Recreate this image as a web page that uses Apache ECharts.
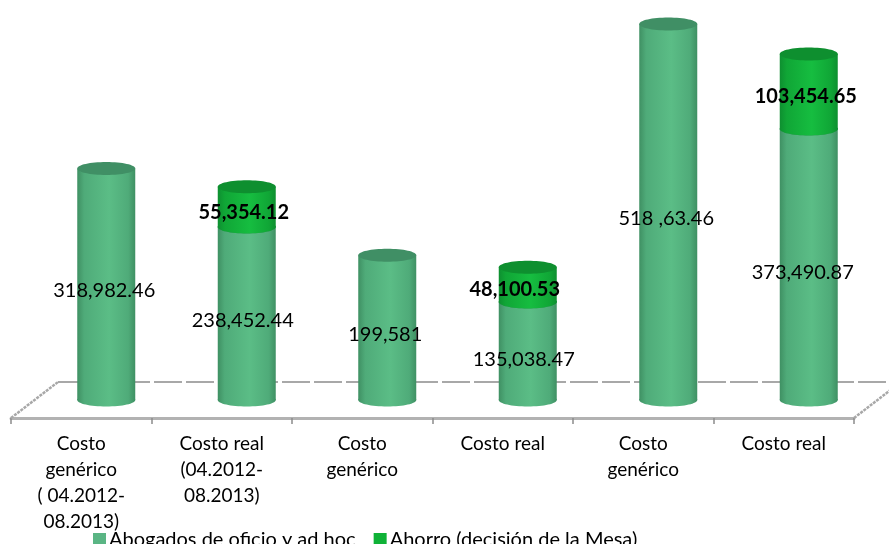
<!DOCTYPE html>
<html>
<head>
<meta charset="utf-8">
<title>Costo genérico y costo real</title>
<script src="https://cdn.jsdelivr.net/npm/echarts@6/dist/echarts.min.js"></script>
<style>html,body{margin:0;padding:0;background:#fff}#c{width:889px;height:544px}</style>
</head>
<body>
<div id="c"></div>
<script>
// Chart values
const categories = [
  'Costo\ngenérico\n( 04.2012-\n08.2013)',
  'Costo real\n(04.2012-\n08.2013)',
  'Costo\ngenérico',
  'Costo real',
  'Costo\ngenérico',
  'Costo real'
];
const abogados = [318982.46, 238452.44, 199581, 135038.47, 518163.46, 373490.87];
const ahorro = [null, 55354.12, null, 48100.53, null, 103454.65];
const abogadosLabels = ['318,982.46', '238,452.44', '199,581', '135,038.47', '518 ,63.46', '373,490.87'];
const ahorroLabels = [null, '55,354.12', null, '48,100.53', null, '103,454.65'];

// Cylinder and floor geometry, in pixels
const FONT = 'Lato, Carlito, sans-serif';
const BAR_W = 58, CAP_RY = 6.5, BAR_DX = 25, BAR_DY = -18, DEPTH_X = 47, DEPTH_Y = -36;
const abogadosNudge = [[-2, 6], [-4, 7], [-2, 7], [-4, 9], [-2, 6], [-6, 8]];
const ahorroNudge = [null, [-3, 6], null, [-13, 5], null, [-3, 5]];

const bodyFill = (c0, c1, c2) => ({
  type: 'linear', x: 0, y: 0, x2: 1, y2: 0,
  colorStops: [{offset: 0, color: c0}, {offset: 0.12, color: c1}, {offset: 0.55, color: c2},
               {offset: 0.88, color: c1}, {offset: 1, color: c0}]
});
const palettes = {
  abogados: {body: bodyFill('#3f9063', '#4fab79', '#5bbd86'), cap: '#408f65', swatch: '#5ab584'},
  ahorro: {body: bodyFill('#0e8f30', '#10a636', '#16bd40'), cap: '#0e8f2f', swatch: '#0fb237'}
};

// One cylinder segment between two values, shifted into the depth of the floor
function segment(api, params, base, top, label, nudge, pal, bold) {
  const idx = api.value(0);
  const a = api.coord([idx, base]);
  const b = api.coord([idx, top]);
  const cx = a[0] + BAR_DX, yBase = a[1] + BAR_DY, yTop = b[1] + BAR_DY, rx = BAR_W / 2;
  const children = [
    {type: 'ellipse', shape: {cx: cx, cy: yBase, rx: rx, ry: CAP_RY}, style: {fill: pal.body}},
    {type: 'rect', shape: {x: cx - rx, y: yTop, width: BAR_W, height: yBase - yTop}, style: {fill: pal.body}},
    {type: 'ellipse', shape: {cx: cx, cy: yTop, rx: rx, ry: CAP_RY}, style: {fill: pal.cap}},
    {type: 'text', z2: 10, style: {
      text: label, x: cx + nudge[0], y: (yBase + yTop) / 2 + nudge[1],
      align: 'center', verticalAlign: 'middle', fill: '#000',
      font: (bold ? 'bold ' : '') + '20px ' + FONT
    }}
  ];
  return {type: 'group', children: children};
}

// Back edge and the two slanted sides of the floor
function floor(params) {
  const g = params.coordSys;
  const left = g.x, right = g.x + g.width, front = g.y + g.height, back = front + DEPTH_Y;
  const edge = (x1, y1, x2, y2, dash, width) => ({
    type: 'line', shape: {x1: x1, y1: y1, x2: x2, y2: y2},
    style: {stroke: '#a8a8a8', lineWidth: width, lineDash: dash}
  });
  return {type: 'group', children: [
    edge(left + DEPTH_X, back, right + DEPTH_X, back, [28, 4], 2),
    edge(left, front, left + DEPTH_X, back, [3, 1], 2.5),
    edge(right, front, right + DEPTH_X, back, [3, 1], 2.5)
  ]};
}

const chart = echarts.init(document.getElementById('c'), null, {renderer: 'canvas'});
chart.setOption({
  animation: false,
  backgroundColor: '#fff',
  grid: {left: 11, right: 35, top: 19, bottom: 126, containLabel: false},
  legend: {
    left: 93, top: 530, itemWidth: 13, itemHeight: 14, itemGap: 18, icon: 'rect',
    padding: 0, selectedMode: false,
    textStyle: {fontFamily: FONT, fontSize: 20, color: '#000', padding: [0, 0, 0, -2]},
    data: ['Abogados de oficio y ad hoc', 'Ahorro (decisión de la Mesa)']
  },
  xAxis: {
    type: 'category', data: categories,
    axisLine: {show: true, lineStyle: {color: '#b2b2b2', width: 3, type: [1, 1]}},
    axisTick: {show: true, alignWithLabel: false, length: 6, lineStyle: {color: '#8c8c8c', width: 1.5}},
    axisLabel: {interval: 0, margin: 13, color: '#000', fontFamily: FONT, fontSize: 19, lineHeight: 26},
    splitLine: {show: false}
  },
  yAxis: {type: 'value', min: 0, max: 550000, show: false, splitLine: {show: false}},
  series: [
    {
      type: 'custom', silent: true, z: 1, coordinateSystem: 'cartesian2d',
      data: [[0, 0]], encode: {x: 0, y: 1},
      renderItem: (params) => floor(params)
    },
    {
      name: 'Abogados de oficio y ad hoc', type: 'custom', z: 2,
      itemStyle: {color: palettes.abogados.swatch},
      data: abogados.map((v, i) => [i, v]), encode: {x: 0, y: 1},
      renderItem: (params, api) => {
        const i = api.value(0);
        return segment(api, params, 0, abogados[i], abogadosLabels[i], abogadosNudge[i], palettes.abogados, false);
      }
    },
    {
      name: 'Ahorro (decisión de la Mesa)', type: 'custom', z: 3,
      itemStyle: {color: palettes.ahorro.swatch},
      data: ahorro.map((v, i) => [i, v]).filter(d => d[1] !== null), encode: {x: 0, y: 1},
      renderItem: (params, api) => {
        const i = api.value(0);
        return segment(api, params, abogados[i], abogados[i] + ahorro[i], ahorroLabels[i], ahorroNudge[i], palettes.ahorro, true);
      }
    }
  ]
});
</script>
</body>
</html>
